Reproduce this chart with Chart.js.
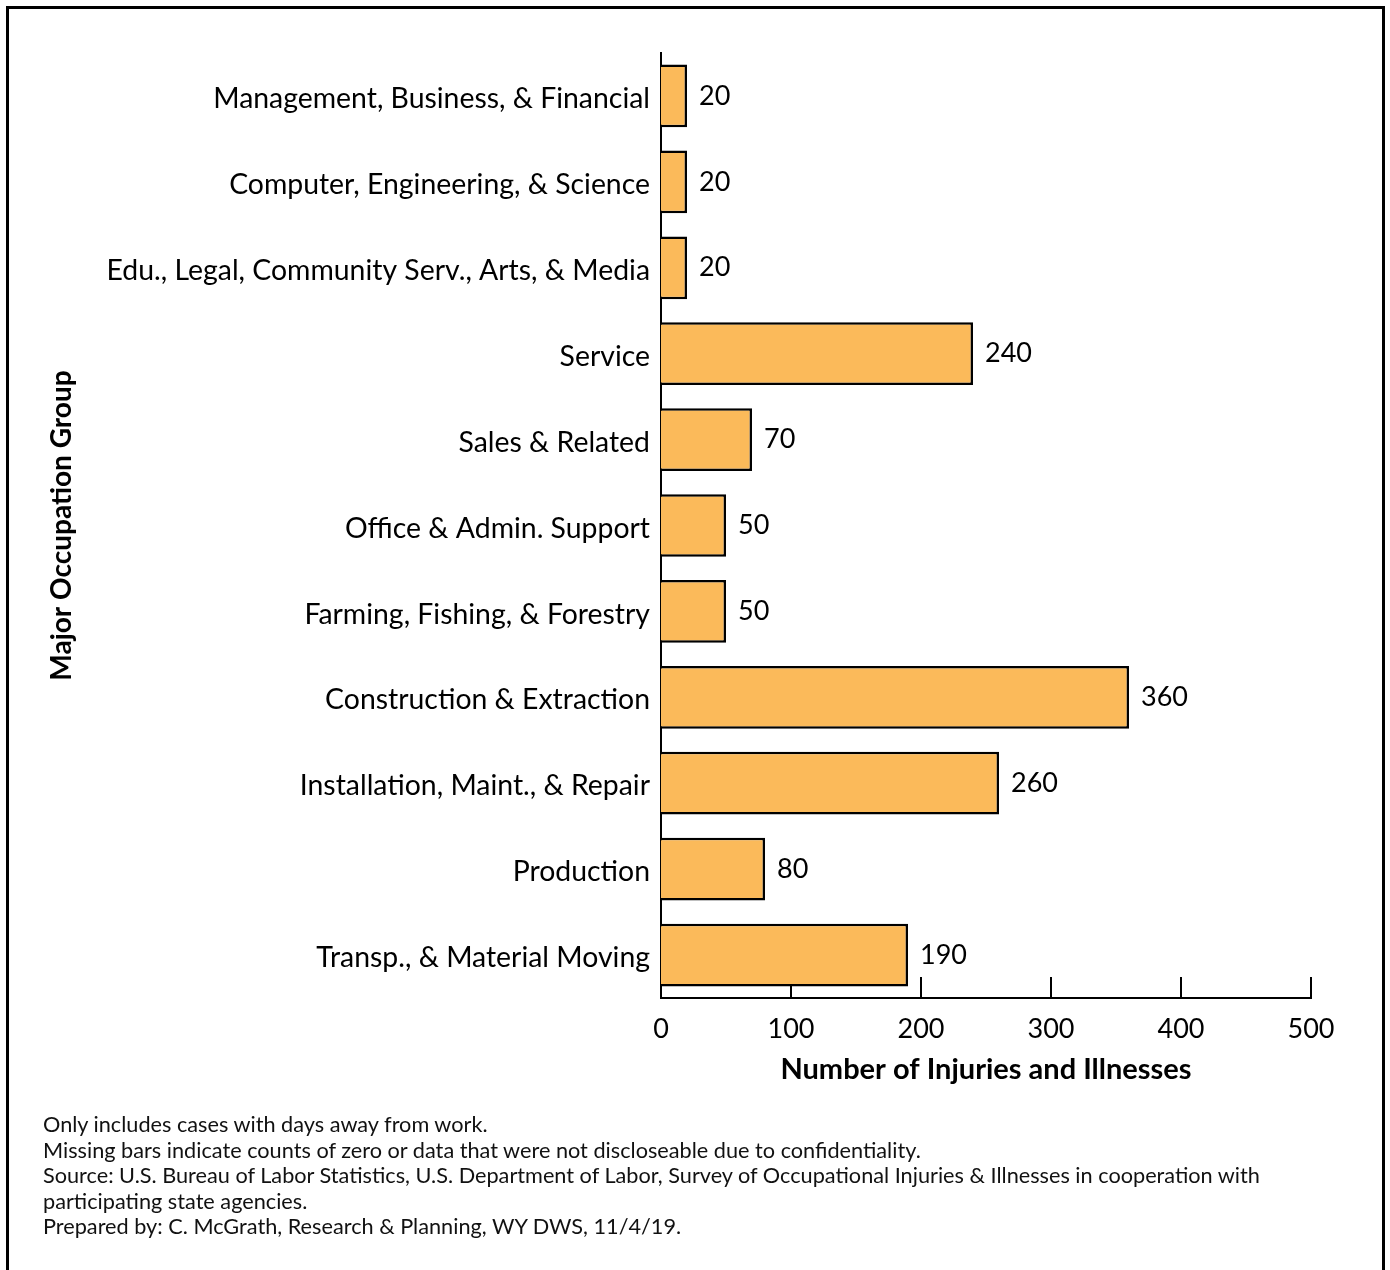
<!DOCTYPE html>
<html>
<head>
<meta charset="utf-8">
<script src="https://cdn.jsdelivr.net/npm/chart.js@4.4.0/dist/chart.umd.min.js"></script>
<style>
  body { margin: 0; background: #fff; }
  #frame { position: absolute; left: 6px; top: 6px; width: 1373px; height: 1300px; border: 3px solid #000; border-bottom: none; }
  #wrap { position: absolute; left: 0; top: 0; width: 1390px; height: 1270px; }
  #notes { position: absolute; left: 43px; top: 1112px; font-family: Lato, sans-serif; font-size: 21.7px; line-height: 25.5px; color: #111; }
</style>
</head>
<body>
<div id="frame"></div>
<div id="wrap"><canvas id="injuryChart" width="1390" height="1270"></canvas></div>
<div id="notes">
  Only includes cases with days away from work.<br>
  Missing bars indicate counts of zero or data that were not discloseable due to confidentiality.<br>
  Source: U.S. Bureau of Labor Statistics, U.S. Department of Labor, Survey of Occupational Injuries &amp; Illnesses in cooperation with<br>
  participating state agencies.<br>
  Prepared by: C. McGrath, Research &amp; Planning, WY DWS, 11/4/19.
</div>
<script>
const occupations = [
  'Management, Business, & Financial',
  'Computer, Engineering, & Science',
  'Edu., Legal, Community Serv., Arts, & Media',
  'Service',
  'Sales & Related',
  'Office & Admin. Support',
  'Farming, Fishing, & Forestry',
  'Construction & Extraction',
  'Installation, Maint., & Repair',
  'Production',
  'Transp., & Material Moving'
];
const injuries = [20, 20, 20, 240, 70, 50, 50, 360, 260, 80, 190];
const xTicks = [0, 100, 200, 300, 400, 500];

const fontFamily = 'Lato, sans-serif';

// tick marks point up into the plot, drawn under the bars
const upTicks = {
  id: 'upTicks',
  beforeDatasetsDraw(chart) {
    const { ctx, chartArea, scales } = chart;
    ctx.save();
    ctx.strokeStyle = '#000';
    ctx.lineWidth = 2;
    xTicks.slice(1).forEach(v => {
      const px = Math.round(scales.x.getPixelForValue(v));
      ctx.beginPath();
      ctx.moveTo(px, chartArea.bottom);
      ctx.lineTo(px, chartArea.bottom - 21);
      ctx.stroke();
    });
    ctx.restore();
  }
};

const valueLabels = {
  id: 'valueLabels',
  afterDatasetsDraw(chart) {
    const { ctx } = chart;
    const meta = chart.getDatasetMeta(0);
    ctx.save();
    ctx.font = '27px ' + fontFamily;
    ctx.fillStyle = '#000';
    ctx.textAlign = 'left';
    ctx.textBaseline = 'middle';
    meta.data.forEach((bar, i) => {
      ctx.fillText(String(injuries[i]), bar.x + 12, bar.y);
    });
    ctx.restore();
  }
};

new Chart(document.getElementById('injuryChart'), {
  type: 'bar',
  data: {
    labels: occupations,
    datasets: [{
      data: injuries,
      backgroundColor: '#FBBA5A',
      borderColor: '#000',
      borderWidth: 2.5,
      barPercentage: 0.73,
      categoryPercentage: 1.0
    }]
  },
  options: {
    indexAxis: 'y',
    responsive: false,
    animation: false,
    layout: { padding: { top: 53, right: 79, left: 0, bottom: 172 } },
    plugins: { legend: { display: false }, tooltip: { enabled: false } },
    scales: {
      x: {
        min: 0,
        max: 500,
        afterBuildTicks: (s) => { s.ticks = xTicks.map(v => ({ value: v })); },
        grid: { display: false, drawTicks: false },
        border: { display: true, color: '#000', width: 2 },
        ticks: { color: '#000', font: { family: fontFamily, size: 27 }, padding: 15, maxRotation: 0 },
        title: {
          display: true,
          text: 'Number of Injuries and Illnesses',
          color: '#000',
          font: { family: fontFamily, size: 29, weight: 'bold' },
          padding: { top: 0, bottom: 11 }
        },
        afterFit: (s) => { s.height = 100; }
      },
      y: {
        grid: { display: false, drawTicks: false },
        border: { display: true, color: '#000', width: 2 },
        ticks: { color: '#000', font: { family: fontFamily, size: 28.4 }, padding: 11, labelOffset: 3 },
        title: {
          display: true,
          text: 'Major Occupation Group',
          color: '#000',
          font: { family: fontFamily, size: 28, weight: 'bold' },
          padding: { top: 45 }
        },
        afterFit: (s) => { s.width = 661; }
      }
    }
  },
  plugins: [upTicks, valueLabels]
});
</script>
</body>
</html>
